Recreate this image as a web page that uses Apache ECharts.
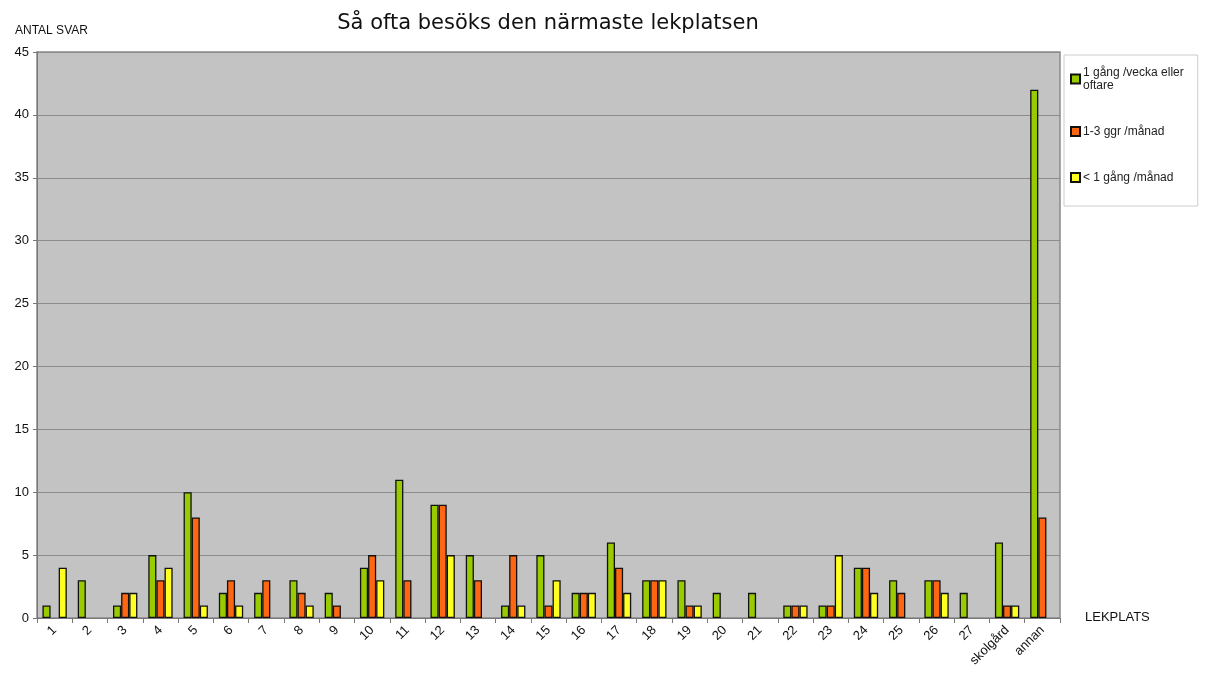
<!DOCTYPE html>
<head>
    <meta charset="UTF-8">
    <title>Lekplatser</title>
    <script src="https://cdn.jsdelivr.net/npm/echarts@6/dist/echarts.min.js"></script>
    <style>
        body { margin: 0; background: #fff; }
        #main { width: 1205px; height: 677px; }
    </style>
</head>
<body>
    <div id="main"></div>
    <script type="text/javascript">
        var lekplatser = ['1','2','3','4','5','6','7','8','9','10','11','12','13','14','15',
            '16','17','18','19','20','21','22','23','24','25','26','27','skolgård','annan'];
        var veckaEllerOftare = [1,3,1,5,10,2,2,3,2,4,11,9,5,1,5,2,6,3,3,2,2,1,1,4,3,3,2,6,42];
        var enTillTreManad = [0,0,2,3,8,3,3,2,1,5,3,9,3,5,1,2,4,3,1,0,0,1,1,4,2,3,0,1,8];
        var mindreAnEnManad = [4,0,2,4,1,1,0,1,0,3,0,5,0,1,3,2,2,3,1,0,0,1,5,2,0,2,0,1,0];
        var yTicks = [0,5,10,15,20,25,30,35,40,45];

        var myChart = echarts.init(document.getElementById('main'));

        // nollor ritas inte (ingen stapel i originalet)
        function serie(name, data, color) {
            return {
                name: name,
                type: 'bar',
                data: data.map(function (v) { return v === 0 ? '-' : v; }),
                barGap: '0%',
                barCategoryGap: '31%',
                itemStyle: { color: color, borderColor: '#111', borderWidth: 1.3 }
            };
        }

        myChart.setOption({
            animation: false,
            textStyle: { fontFamily: 'Liberation Sans, Arial, sans-serif' },
            title: [{
                text: 'Så ofta besöks den närmaste lekplatsen',
                left: 543, top: 8, textAlign: 'center',
                textStyle: { fontSize: 21, fontWeight: 'normal', color: '#111', fontFamily: 'DejaVu Sans' }
            }, {
                text: 'ANTAL SVAR',
                left: 10, top: 20,
                textStyle: { fontSize: 12, fontWeight: 'normal', color: '#111' }
            }, {
                text: 'LEKPLATS',
                left: 1080, top: 606,
                textStyle: { fontSize: 13, fontWeight: 'normal', color: '#111' }
            }],
            legend: {
                orient: 'vertical',
                left: 1064, top: 55,
                width: 140,
                padding: [11, 14, 22, 6],
                itemGap: 33,
                itemWidth: 9, itemHeight: 9,
                backgroundColor: '#fff',
                borderColor: '#ccc', borderWidth: 1,
                icon: 'rect',
                textStyle: { fontSize: 12, color: '#222', padding: [0, 0, 0, -2], lineHeight: 13 },
                data: ['1 gång /vecka eller\noftare', '1-3 ggr /månad', '< 1 gång /månad']
            },
            grid: {
                left: 37, right: 145, top: 52, bottom: 59,
                show: true,
                backgroundColor: '#c3c3c3',
                borderColor: '#8a8a8a', borderWidth: 1.5
            },
            xAxis: {
                type: 'category',
                data: lekplatser,
                axisLine: { lineStyle: { color: '#777' } },
                axisTick: { show: true, length: 5, lineStyle: { color: '#777' } },
                axisLabel: { rotate: 45, color: '#111', fontSize: 13, margin: 10 }
            },
            yAxis: {
                type: 'value',
                min: 0, max: 45, interval: 5,
                axisLine: { show: true, lineStyle: { color: '#777' } },
                axisTick: { show: true, length: 4, lineStyle: { color: '#777' } },
                axisLabel: {
                    color: '#111', fontSize: 13, margin: 8,
                    formatter: function (v) { return yTicks.indexOf(v) >= 0 ? v : ''; }
                },
                splitLine: { lineStyle: { color: '#8c8c8c', width: 1.2 } }
            },
            series: [
                serie('1 gång /vecka eller\noftare', veckaEllerOftare, '#99cc00'),
                serie('1-3 ggr /månad', enTillTreManad, '#ff6611'),
                serie('< 1 gång /månad', mindreAnEnManad, '#ffff22')
            ]
        });
    </script>
</body>
